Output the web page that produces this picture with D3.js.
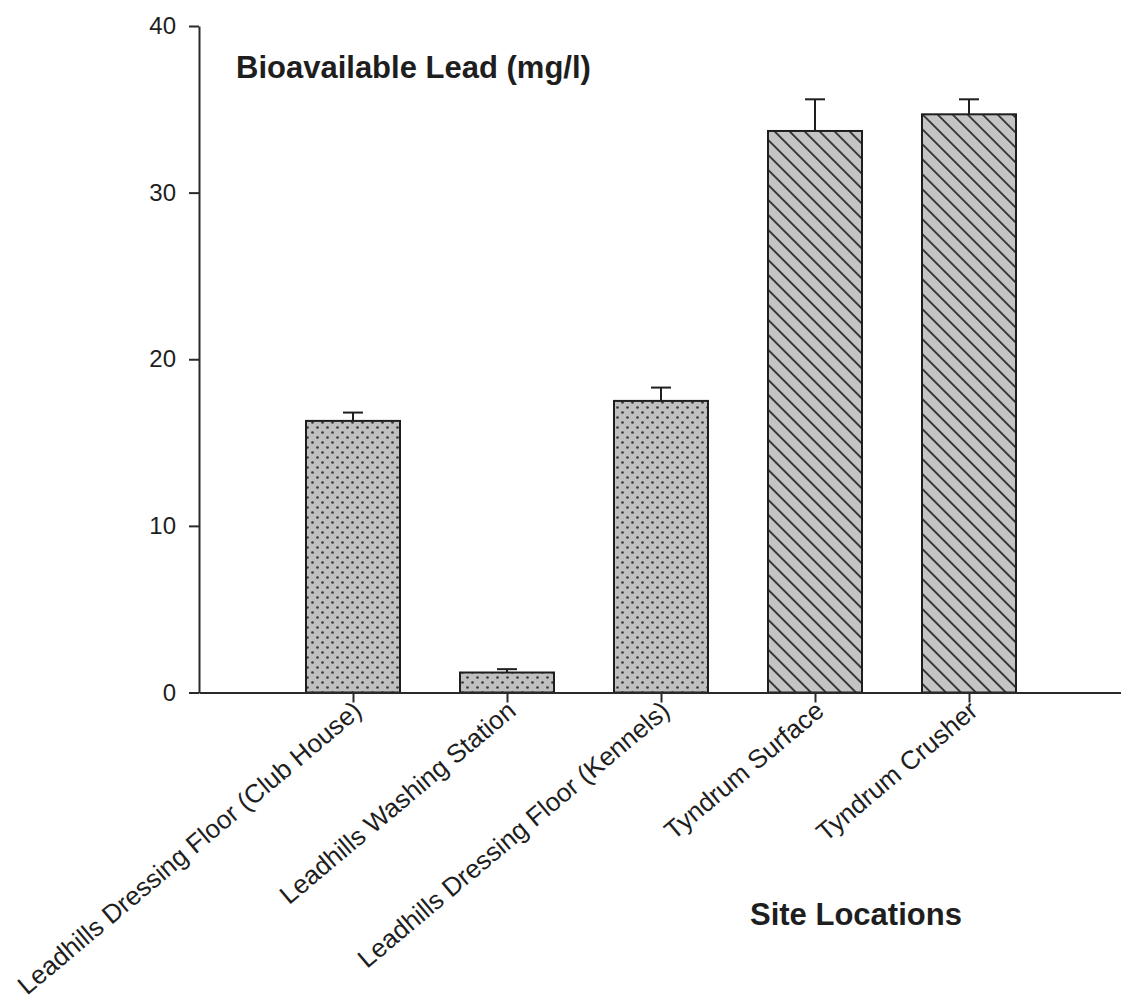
<!DOCTYPE html>
<html>
<head>
<meta charset="utf-8">
<script src="https://cdn.jsdelivr.net/npm/d3@7"></script>
<style>
  html, body { margin: 0; padding: 0; background: #fff; }
  svg { display: block; font-family: "Liberation Sans", Arial, Helvetica, sans-serif; }
</style>
</head>
<body>
<svg id="chart" width="1121" height="1007"></svg>
<script>
const categories = [
  "Leadhills Dressing Floor (Club House)",
  "Leadhills Washing Station",
  "Leadhills Dressing Floor (Kennels)",
  "Tyndrum Surface",
  "Tyndrum Crusher"
];
const means = [16.3, 1.2, 17.5, 33.7, 34.7];
const errors = [0.5, 0.2, 0.8, 1.9, 0.9];
const yTicks = [0, 10, 20, 30, 40];
const yTitle = "Bioavailable Lead (mg/l)";
const xTitle = "Site Locations";

const svg = d3.select("#chart");
const ink = "#1e1e1e";

// patterns
const defs = svg.append("defs");
const dots = defs.append("pattern")
  .attr("id", "dots").attr("patternUnits", "userSpaceOnUse")
  .attr("width", 10).attr("height", 10);
dots.append("rect").attr("width", 10).attr("height", 10).attr("fill", "#c0c0c0");
dots.append("circle").attr("cx", 2.5).attr("cy", 2.5).attr("r", 1.35).attr("fill", "#3a3a3a");
dots.append("circle").attr("cx", 7.5).attr("cy", 7.5).attr("r", 1.35).attr("fill", "#3a3a3a");

const hatch = defs.append("pattern")
  .attr("id", "hatch").attr("patternUnits", "userSpaceOnUse")
  .attr("width", 10.6).attr("height", 10.6)
  .attr("patternTransform", "rotate(45)");
hatch.append("rect").attr("width", 10.6).attr("height", 10.6).attr("fill", "#c4c4c4");
hatch.append("line").attr("x1", 0).attr("x2", 10.6).attr("y1", 1).attr("y2", 1)
  .attr("stroke", "#1a1a1a").attr("stroke-width", 1.6);

const x = d3.scalePoint().domain(categories).range([199, 1123]).padding(1);
const y = d3.scaleLinear().domain([0, 40]).range([692.5, 26]);
const barW = 94;
const capW = 20;

// bars
const data = categories.map((c, i) => ({ c, m: means[i], e: errors[i] }));
svg.append("g").selectAll("rect").data(data).join("rect")
  .attr("x", d => x(d.c) - barW / 2)
  .attr("width", barW)
  .attr("y", d => y(d.m))
  .attr("height", d => y(0) - y(d.m))
  .attr("fill", d => d.c.startsWith("Tyndrum") ? "url(#hatch)" : "url(#dots)")
  .attr("stroke", ink).attr("stroke-width", 2);

// error bars (upper only)
const eb = svg.append("g").attr("stroke", ink).attr("stroke-width", 2);
eb.selectAll("line.v").data(data).join("line").attr("class", "v")
  .attr("x1", d => x(d.c)).attr("x2", d => x(d.c))
  .attr("y1", d => y(d.m)).attr("y2", d => y(d.m + d.e));
eb.selectAll("line.h").data(data).join("line").attr("class", "h")
  .attr("x1", d => x(d.c) - capW / 2).attr("x2", d => x(d.c) + capW / 2)
  .attr("y1", d => y(d.m + d.e)).attr("y2", d => y(d.m + d.e));

// y axis
const yAxis = svg.append("g").attr("transform", `translate(199,0)`)
  .call(d3.axisLeft(y).tickValues(yTicks).tickSize(10).tickSizeOuter(0).tickPadding(13));
yAxis.selectAll("text").attr("font-size", 24).attr("fill", ink).attr("font-family", "Liberation Sans, Arial, sans-serif");

// x axis
const xAxis = svg.append("g").attr("transform", `translate(0,${y(0)})`)
  .call(d3.axisBottom(x).tickSize(10).tickSizeOuter(0));
xAxis.selectAll("text")
  .attr("font-size", 26).attr("fill", ink).attr("font-family", "Liberation Sans, Arial, sans-serif")
  .attr("text-anchor", "end")
  .attr("dy", 0).attr("y", 0)
  .attr("transform", "translate(10,21) rotate(-40)");

svg.selectAll(".domain, .tick line").attr("stroke", "#2a2a2a").attr("stroke-width", 2);

// titles
svg.append("text").attr("x", 236).attr("y", 78)
  .attr("font-size", 31).attr("font-weight", "bold").attr("fill", ink)
  .text(yTitle);
svg.append("text").attr("x", 750).attr("y", 925)
  .attr("font-size", 31).attr("font-weight", "bold").attr("fill", ink)
  .text(xTitle);
</script>
</body>
</html>
